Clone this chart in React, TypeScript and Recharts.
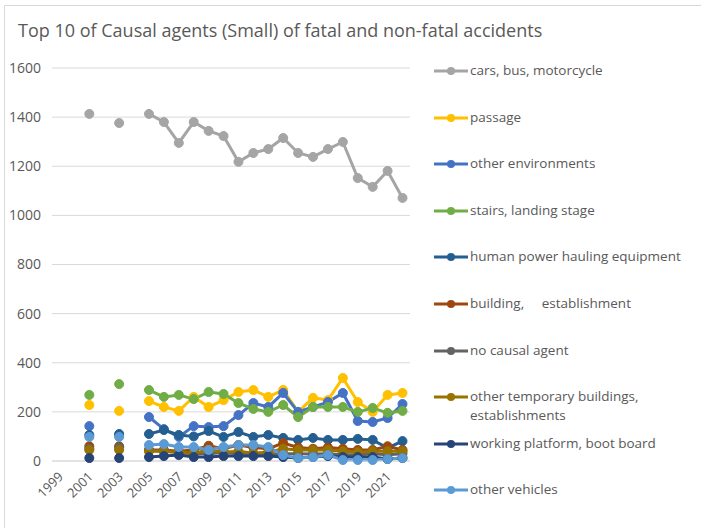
import { LineChart, Line, XAxis, YAxis, CartesianGrid } from "recharts";

const years = [
	"1999", "2000", "2001", "2002", "2003", "2004", "2005", "2006", "2007", "2008", "2009", "2010",
	"2011", "2012", "2013", "2014", "2015", "2016", "2017", "2018", "2019", "2020", "2021", "2022",
];

const cars = [null, null, 1413, null, 1376, null, 1413, 1380, 1295, 1380, 1344, 1323, 1218, 1254, 1270, 1315, 1254, 1238, 1270, 1299, 1152, 1116, 1181, 1071];
const passage = [null, null, 228, null, 204, null, 244, 220, 204, 261, 220, 248, 281, 289, 261, 289, 200, 257, 248, 338, 240, 200, 269, 277];
const otherEnv = [null, null, 142, null, 105, null, 179, 130, 98, 142, 138, 142, 187, 236, 220, 277, 200, 220, 240, 277, 163, 159, 175, 232];
const stairs = [null, null, 269, null, 313, null, 289, 261, 269, 252, 281, 273, 236, 212, 200, 228, 179, 220, 220, 220, 200, 216, 196, 204];
const hauling = [null, null, 106, null, 110, null, 110, 126, 106, 100, 122, 98, 118, 98, 106, 94, 86, 94, 86, 86, 90, 86, 53, 81];
const building = [null, null, 60, null, 60, null, 45, 45, 40, 45, 62, 50, 65, 55, 50, 73, 55, 50, 55, 50, 45, 45, 60, 45];
const noAgent = [null, null, 50, null, 55, null, 45, 40, 35, 30, 30, 35, 30, 30, 28, 30, 30, 28, 30, 25, 25, 30, 25, 30];
const tempBuildings = [null, null, 45, null, 45, null, 40, 40, 36, 32, 45, 36, 40, 32, 36, 50, 45, 45, 45, 40, 36, 40, 40, 40];
const platform = [null, null, 12, null, 12, null, 16, 20, 24, 16, 16, 20, 20, 20, 20, 16, 12, 16, 20, 16, 16, 16, 8, 12];
const otherVehicles = [null, null, 98, null, 98, null, 65, 69, 57, 57, 45, 57, 65, 65, 57, 24, 12, 16, 24, 4, 4, 4, 8, 12];

const yTicks = [0, 200, 400, 600, 800, 1000, 1200, 1400, 1600];

const series = [
	{ key: "cars", name: "cars, bus, motorcycle", color: "#a5a5a5", values: cars },
	{ key: "passage", name: "passage", color: "#ffc000", values: passage },
	{ key: "otherEnv", name: "other environments", color: "#4472c4", values: otherEnv },
	{ key: "stairs", name: "stairs, landing stage", color: "#70ad47", values: stairs },
	{ key: "hauling", name: "human power hauling equipment", color: "#255e91", values: hauling },
	{ key: "building", name: "building,\u00a0\u00a0\u00a0\u00a0 establishment", color: "#9e480e", values: building },
	{ key: "noAgent", name: "no causal agent", color: "#636363", values: noAgent },
	{ key: "tempBuildings", name: "other temporary buildings,\nestablishments", color: "#997300", values: tempBuildings },
	{ key: "platform", name: "working platform, boot board", color: "#264478", values: platform },
	{ key: "otherVehicles", name: "other vehicles", color: "#5b9bd5", values: otherVehicles },
];

const data = years.map((year, i) => {
	const row: Record<string, string | number | null> = { year };
	series.forEach((s) => {
		row[s.key] = s.values[i];
	});
	return row;
});

const font = "'Open Sans', 'Noto Sans', sans-serif";
const textColor = "#595959";

function LegendBox() {
	return (
		<div style={{ position: "absolute", left: 432, top: 61, width: 268, height: 460, fontFamily: font }}>
			{series.map((s, i) => (
				<div
					key={s.key}
					style={{ position: "absolute", left: 0, top: i * 46.6, display: "flex", alignItems: "flex-start" }}
				>
					<svg width={38} height={20} style={{ flexShrink: 0 }}>
						<line x1={2} y1={10} x2={36} y2={10} stroke={s.color} strokeWidth={3} />
						<circle cx={19} cy={10} r={4} fill={s.color} />
					</svg>
					<span style={{ fontSize: 13.5, color: textColor, lineHeight: "19px", whiteSpace: "pre" }}>
						{s.name}
					</span>
				</div>
			))}
		</div>
	);
}

export default function App() {
	return (
		<div style={{ position: "fixed", left: 0, top: 0, width: 701, height: 528, background: "#fff" }}>
			<div
				style={{
					position: "absolute",
					left: 4,
					top: 5,
					width: 720,
					height: 540,
					border: "1px solid #d9d9d9",
				}}
			/>
			<div
				style={{
					position: "absolute",
					left: 18,
					top: 18,
					fontFamily: font,
					fontSize: 18,
					color: textColor,
					whiteSpace: "nowrap",
				}}
			>
				Top 10 of Causal agents (Small) of fatal and non-fatal accidents
			</div>
			<div style={{ position: "absolute", left: 0, top: 0 }}>
				<LineChart width={701} height={528} data={data} margin={{ top: 68, right: 291, bottom: 0, left: 8 }}>
					<CartesianGrid horizontal vertical={false} stroke="#d9d9d9" strokeWidth={1} />
					<XAxis
						dataKey="year"
						interval={1}
						height={67}
						padding={{ left: 7.5, right: 7.5 }}
						axisLine={{ stroke: "#d9d9d9" }}
						tickLine={false}
						angle={-45}
						textAnchor="end"
						dy={2}
						dx={-2}
						tick={{ fontSize: 13, fill: textColor, fontFamily: font }}
					/>
					<YAxis
						width={44}
						domain={[0, 1600]}
						ticks={yTicks}
						axisLine={false}
						tickLine={false}
						tick={{ fontSize: 14, fill: textColor, fontFamily: font }}
						dx={-3}
					/>
					{series.map((s) => (
						<Line
							key={s.key}
							dataKey={s.key}
							name={s.name}
							stroke={s.color}
							strokeWidth={3}
							dot={{ r: 4.5, fill: s.color, stroke: s.color, strokeWidth: 1 }}
							activeDot={false}
							isAnimationActive={false}
							type="linear"
						/>
					))}
				</LineChart>
			</div>
			<LegendBox />
		</div>
	);
}
